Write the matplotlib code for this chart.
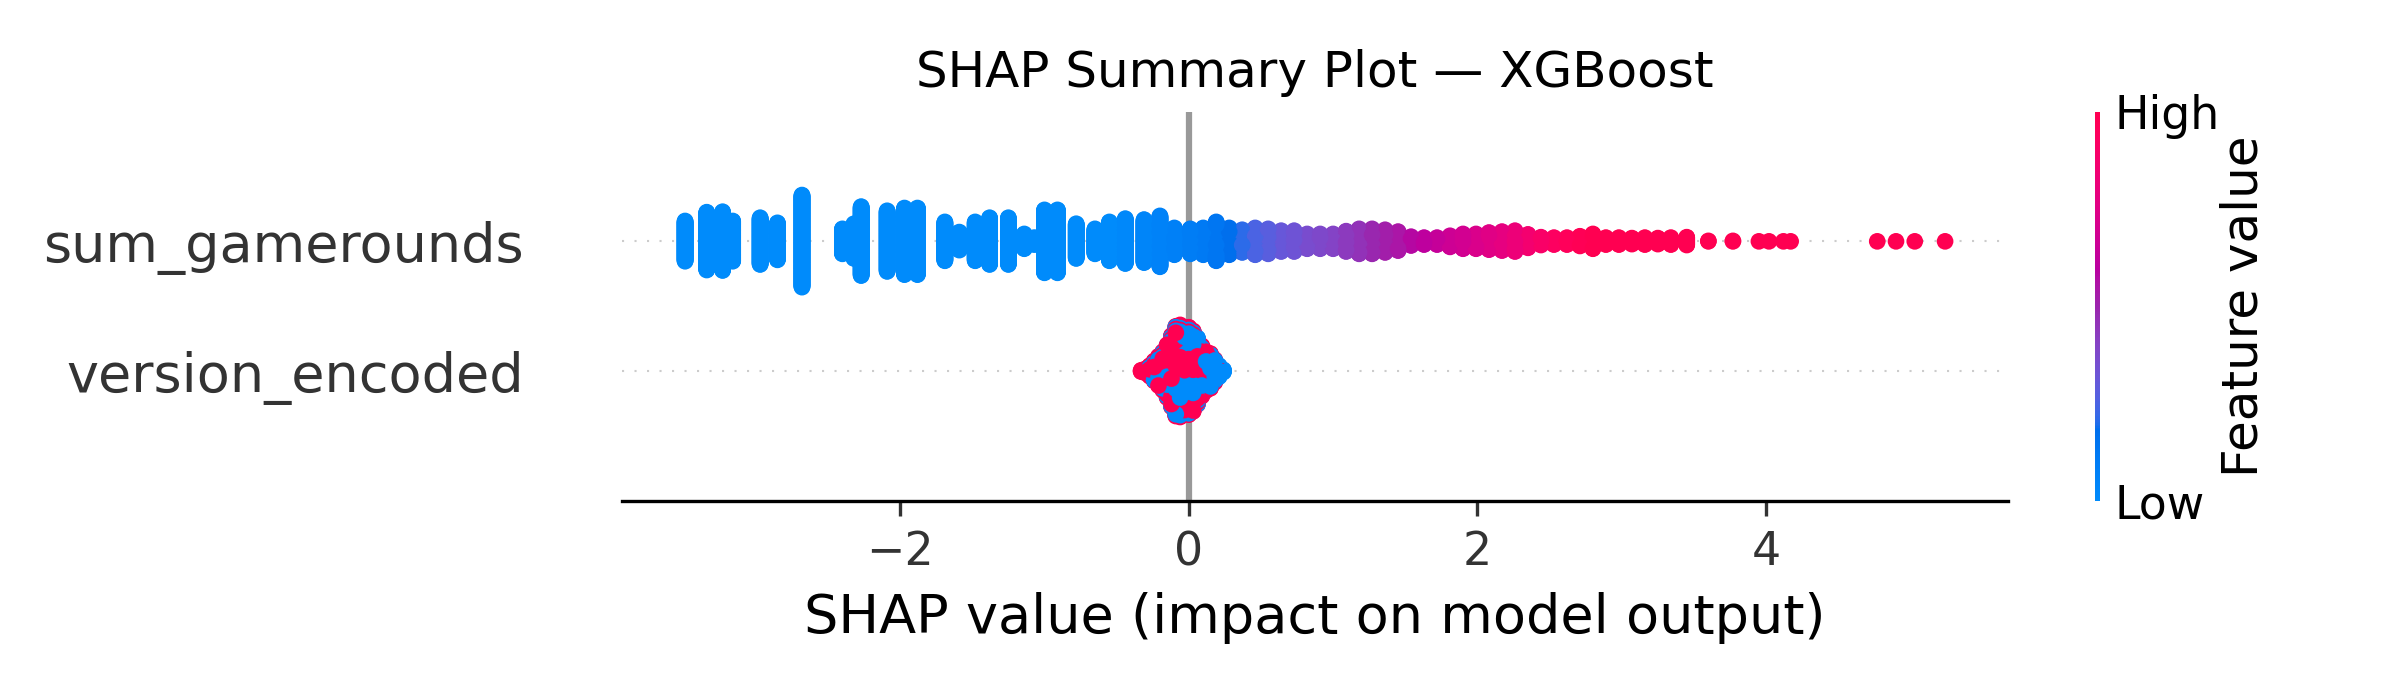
import matplotlib
matplotlib.use('Agg')

import matplotlib.pyplot as plt
from matplotlib.colors import LinearSegmentedColormap
import numpy as np

features = ['version_encoded', 'sum_gamerounds']

# sum_gamerounds: SHAP value of each group of players, how many players sit on it,
# and the scaled feature value (0 = low, 1 = high) used for the colour
sg_shap = [-3.49, -3.34, -3.23, -3.16, -2.97, -2.85, -2.68, -2.40, -2.32, -2.27,
           -2.09, -1.97, -1.88, -1.69, -1.59, -1.48, -1.38, -1.25, -1.14, -1.07,
           -1.00, -0.91, -0.78, -0.65, -0.55, -0.44, -0.31, -0.20, -0.10,
           0.01, 0.10, 0.19, 0.28, 0.37, 0.46, 0.55, 0.64, 0.73, 0.82,
           0.91, 1.00, 1.09, 1.18, 1.27, 1.36, 1.45, 1.54, 1.63, 1.72,
           1.81, 1.90, 1.99, 2.08, 2.17, 2.26, 2.35, 2.44, 2.53, 2.62,
           2.71, 2.80, 2.89, 2.98, 3.07, 3.16, 3.25, 3.34, 3.45, 3.60,
           3.77, 3.95, 4.02, 4.12, 4.17, 4.77, 4.90, 5.03, 5.24]
sg_count = [88, 126, 128, 88, 102, 81, 200, 55, 76, 150,
            132, 145, 145, 85, 40, 85, 102, 102, 33, 16,
            137, 137, 76, 55, 85, 98, 94, 111, 59,
            55, 59, 85, 59, 50, 59, 55, 46, 46, 33,
            33, 33, 45, 55, 55, 50, 42, 20, 16, 16,
            25, 33, 33, 38, 42, 46, 30, 18, 16, 16,
            22, 33, 16, 16, 14, 16, 14, 16, 18, 2,
            2, 1, 1, 1, 1, 1, 1, 1, 1]
sg_value = [0, 0, 0, 0, 0, 0, 0, 0, 0, 0,
            0, 0, 0, 0, 0, 0, 0, 0, 0, 0,
            0, 0, 0, 0, 0, 0.02, 0.04, 0.06, 0.08,
            0.10, 0.12, 0.14, 0.18, 0.21, 0.25, 0.28, 0.31, 0.33, 0.36,
            0.38, 0.40, 0.43, 0.46, 0.49, 0.52, 0.55, 0.58, 0.61, 0.64,
            0.67, 0.69, 0.72, 0.75, 0.78, 0.82, 0.86, 0.90, 0.93, 0.96,
            0.98, 1, 1, 1, 1, 1, 1, 1, 1, 1,
            1, 1, 1, 1, 1, 1, 1, 1, 1]

# version_encoded: SHAP value groups, players per group, and how many of them are version 1
ver_shap = [-0.33, -0.30, -0.27, -0.24, -0.21, -0.18, -0.15, -0.12, -0.09, -0.06,
            -0.03, 0.00, 0.03, 0.06, 0.09, 0.12, 0.15, 0.18, 0.21, 0.24]
ver_count = [4, 10, 24, 44, 64, 84, 115, 155, 195, 200,
             185, 190, 175, 145, 110, 85, 76, 50, 25, 6]
ver_high = [4, 8, 18, 30, 40, 48, 62, 82, 100, 100,
            90, 100, 90, 68, 48, 34, 28, 16, 6, 0]


def lch_to_rgb(l, c, h):
    # CIE Lch -> Lab -> XYZ (D65) -> sRGB
    a, b = c * np.cos(h), c * np.sin(h)
    fy = (l + 16.) / 116.
    fx = fy + a / 500.
    fz = max(fy - b / 200., 0.)
    finv = lambda t: t ** 3 if t > 0.2068966 else (t - 16. / 116.) / 7.787
    xyz = np.array([0.95047 * finv(fx), finv(fy), 1.08883 * finv(fz)])
    mat = np.array([[3.24048134, -1.53715152, -0.49853633],
                    [-0.96925495, 1.87599, 0.04155593],
                    [0.05564664, -0.20404134, 1.05731107]])
    rgb = mat @ xyz
    rgb = np.where(rgb > 0.0031308, 1.055 * np.abs(rgb) ** (1 / 2.4) - 0.055, 12.92 * rgb)
    return np.clip(rgb, 0, 1)


def red_blue_cmap():
    blue_lch = [54., 70., 4.6588]
    red_lch = [54., 90., 0.35470565 + 2 * np.pi]
    l_mid = 40.
    nsteps = 100
    l_vals = list(np.linspace(blue_lch[0], l_mid, nsteps // 2)) + list(np.linspace(l_mid, red_lch[0], nsteps // 2))
    c_vals = np.linspace(blue_lch[1], red_lch[1], nsteps)
    h_vals = np.linspace(blue_lch[2], red_lch[2], nsteps)
    colors = [lch_to_rgb(l, c, h) for l, c, h in zip(l_vals, c_vals, h_vals)]
    return LinearSegmentedColormap.from_list('red_blue', colors)


def swarm_offsets(shaps, row_height=0.4, nbins=100):
    # same layering as the shap beeswarm, with a stable sort instead of random tie-breaking
    quant = np.round(nbins * (shaps - shaps.min()) / (shaps.max() - shaps.min() + 1e-8))
    inds = np.argsort(quant, kind='stable')
    ys = np.zeros(len(shaps))
    layer = 0
    last_bin = -1
    for ind in inds:
        if quant[ind] != last_bin:
            layer = 0
        ys[ind] = np.ceil(layer / 2) * ((layer % 2) * 2 - 1)
        layer += 1
        last_bin = quant[ind]
    ys *= 0.9 * (row_height / np.max(ys + 1))
    return ys


def mixed_values(n, k, block=4):
    # put the k "high" players in short runs of pairs, so both sides of the swarm get red and blue
    v = np.zeros(n)
    npairs = (n + 1) // 2
    nblocks = int(np.ceil(npairs / block))
    red_blocks = int(round(nblocks * k / n)) if n else 0
    if red_blocks == 0 and k > 0:
        v[:min(k, n)] = 1
        return v
    for b in np.unique(np.linspace(0, nblocks - 1, red_blocks).round().astype(int)):
        v[2 * b * block:2 * (b + 1) * block] = 1
    return v


sg_x = np.repeat(sg_shap, sg_count)
sg_c = np.repeat(sg_value, sg_count)
ver_x = np.repeat(ver_shap, ver_count)
ver_c = np.concatenate([mixed_values(n, k) for n, k in zip(ver_count, ver_high)])

cmap = red_blue_cmap()

fig = plt.figure(figsize=(8, 2.3), dpi=300)
ax = fig.add_axes([0.2592, 0.2739, 0.5775, 0.5645])

ax.axvline(x=0, color='#999999', zorder=-1)
for pos, (shaps, vals) in enumerate([(ver_x, ver_c), (sg_x, sg_c)]):
    ax.axhline(y=pos, color='#cccccc', lw=0.5, dashes=(1, 5), zorder=-1)
    ys = swarm_offsets(shaps)
    # shuffle only the drawing order (golden-ratio sequence), like unordered rows in a real dataset
    order = np.argsort((np.arange(len(shaps)) * 0.6180339887) % 1.0, kind='stable')
    ax.scatter(shaps[order], pos + ys[order], c=vals[order], cmap=cmap, vmin=0, vmax=1, s=16,
               alpha=1, linewidth=0, zorder=3, rasterized=len(shaps) > 500)

# colour bar, thin like the shap one
cax = fig.add_axes([0.8729, 0.2739, 0.0021, 0.5645])
m = plt.cm.ScalarMappable(cmap=cmap)
m.set_array([0, 1])
cb = fig.colorbar(m, cax=cax, ticks=[0, 1])
cb.set_ticklabels(['Low', 'High'])
cb.set_label('Feature value', size=12, labelpad=0)
cb.ax.tick_params(labelsize=11, length=0)
cb.outline.set_visible(False)

axis_color = '#333333'
ax.xaxis.set_ticks_position('bottom')
ax.yaxis.set_ticks_position('none')
for s in ['right', 'top', 'left']:
    ax.spines[s].set_visible(False)
ax.tick_params(color=axis_color, labelcolor=axis_color)
ax.set_yticks(range(len(features)))
ax.set_yticklabels(features, fontsize=13)
ax.tick_params('y', length=20, width=0.5, which='major')
ax.tick_params('x', labelsize=11)
ax.set_ylim(-1, len(features))
ax.set_xlabel('SHAP value (impact on model output)', fontsize=13)
ax.set_title('SHAP Summary Plot — XGBoost')

fig.savefig('out.png', dpi=300)
